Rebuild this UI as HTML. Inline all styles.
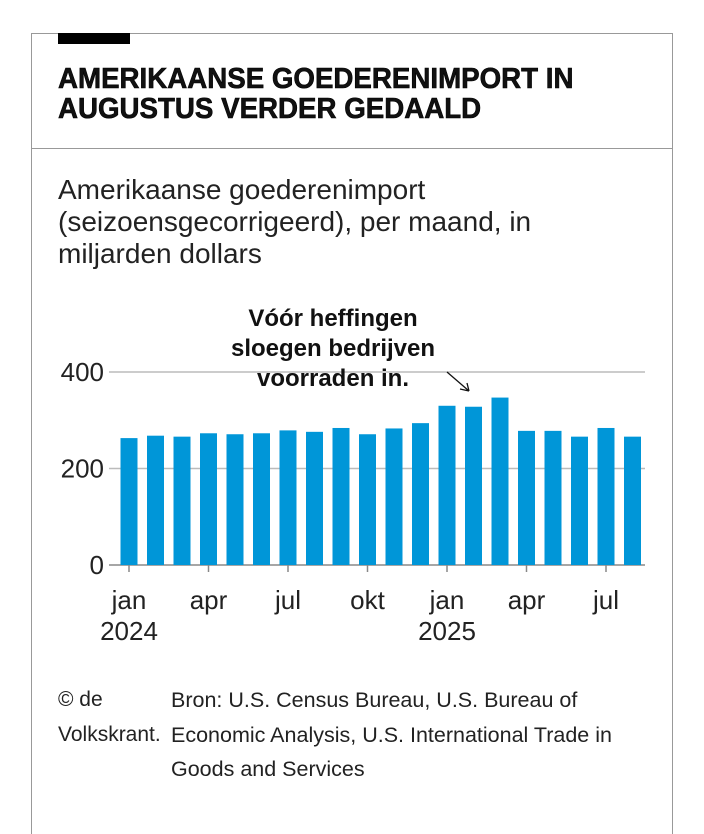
<!DOCTYPE html>
<html><head><meta charset="utf-8"><style>
body{margin:0;width:704px;height:800px;background:#fff;position:relative;overflow:hidden;font-family:"Liberation Sans",sans-serif;color:#111}
.abs{position:absolute;white-space:nowrap}
</style></head><body>
<div class="abs" style="left:31px;top:33px;width:640px;height:800px;border:1px solid #999;border-bottom:none"></div>
<div class="abs" style="left:58px;top:33px;width:72px;height:11px;background:#000"></div>
<div class="abs" style="left:31px;top:148px;width:641px;height:1px;background:#999"></div>
<div class="abs" style="left:58px;top:64px;transform:scaleX(0.955);transform-origin:left top;font-weight:bold;font-size:29px;line-height:30px;-webkit-text-stroke:0.6px #000">AMERIKAANSE GOEDERENIMPORT IN<br>AUGUSTUS VERDER GEDAALD</div>
<div class="abs" style="left:58px;top:174px;font-size:28px;line-height:32px;color:#222">Amerikaanse goederenimport<br>(seizoensgecorrigeerd), per maand, in<br>miljarden dollars</div>
<svg class="abs" style="left:0;top:0" width="704" height="800" id="chart"></svg>
<div class="abs" style="left:333px;top:304px;transform:translateX(-50%);text-align:center;font-weight:bold;font-size:24px;line-height:30px">Vóór heffingen<br>sloegen bedrijven<br>voorraden in.</div>
<div class="abs" style="left:58px;top:683px;font-size:21px;line-height:34.5px;color:#222">© de<br>Volkskrant.</div>
<div class="abs" style="left:171px;top:683px;font-size:21.5px;line-height:34.5px;color:#222">Bron: U.S. Census Bureau, U.S. Bureau of<br>Economic Analysis, U.S. International Trade in<br>Goods and Services</div>
<script>
const months=["jan","feb","mrt","apr","mei","jun","jul","aug","sep","okt","nov","dec","jan","feb","mrt","apr","mei","jun","jul","aug"];
const values=[263,268,266,273,271,273,279,276,284,271,283,294,330,328,347,278,278,266,284,266];
const yTicks=[0,200,400];
const xTickIdx=[0,3,6,9,12,15,18];
const xTickLabels=["jan","apr","jul","okt","jan","apr","jul"];
const yearIdx=[0,12];
const yearLabels=["2024","2025"];
const svg=document.getElementById('chart');
const NS="http://www.w3.org/2000/svg";
const x0=129,step=26.5,bw=17;
const y=v=>565-v*(193/400);
const x=i=>x0+i*step;
function mk(t,a){const e=document.createElementNS(NS,t);for(const k in a)e.setAttribute(k,a[k]);svg.appendChild(e);return e;}
yTicks.forEach(v=>{
  const l=mk('line',{x1:109,x2:645,y1:y(v),y2:y(v),stroke:v===0?'#888':'#bbb','stroke-width':1.5});
  
  
  const t=mk('text',{x:104,y:y(v)+9,'text-anchor':'end','font-size':26,fill:'#222','font-family':'Liberation Sans, sans-serif'});
  t.textContent=v;
  
  
});
values.forEach((v,i)=>{
  const r=mk('rect',{x:x(i)-bw/2,y:y(v),width:bw,height:y(0)-y(v),fill:'#0096d8'});
  
  
});
xTickIdx.forEach((idx,k)=>{
  const l=mk('line',{x1:x(idx),x2:x(idx),y1:565,y2:572,stroke:'#888','stroke-width':1.5});
  
  
  const t=mk('text',{x:x(idx),y:609,'text-anchor':'middle','font-size':26,fill:'#222','font-family':'Liberation Sans, sans-serif'});
  t.textContent=xTickLabels[k];
  
  
});
yearIdx.forEach((idx,k)=>{
  const t=mk('text',{x:x(idx),y:640,'text-anchor':'middle','font-size':26,fill:'#222','font-family':'Liberation Sans, sans-serif'});
  t.textContent=yearLabels[k];
  
  
});
const a=mk('path',{d:'M447 372 L469 391 M469 391 L460 389 M469 391 L467 383',stroke:'#111','stroke-width':1.3,fill:'none'});


</script>
</body></html>
